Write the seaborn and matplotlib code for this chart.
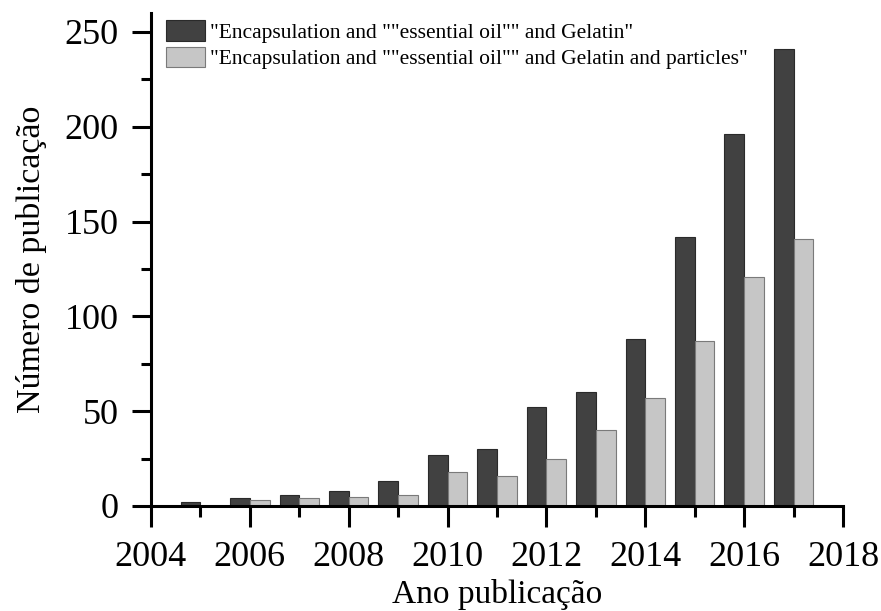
import pandas as pd
import matplotlib
matplotlib.use("Agg")
import matplotlib.pyplot as plt
import seaborn as sns
from matplotlib.ticker import MultipleLocator
from matplotlib.patches import Patch

# Data
years = [2005, 2006, 2007, 2008, 2009, 2010, 2011, 2012, 2013, 2014, 2015, 2016, 2017]
gelatin = [2, 4, 6, 8, 13, 27, 30, 52, 60, 88, 142, 196, 241]
gelatin_particles = [0, 3, 4, 5, 6, 18, 16, 25, 40, 57, 87, 121, 141]

label_1 = '"Encapsulation and ""essential oil"" and Gelatin"'
label_2 = '"Encapsulation and ""essential oil"" and Gelatin and particles"'

data = pd.DataFrame({
    'Ano': years * 2,
    'Publicacoes': gelatin + gelatin_particles,
    'Serie': [label_1] * len(years) + [label_2] * len(years),
})

dark = '#414141'
light = '#c6c6c6'

sns.set_style("ticks")
plt.rcParams['font.family'] = ['Liberation Serif', 'DejaVu Serif']
plt.rcParams['text.color'] = 'black'
plt.rcParams['axes.labelcolor'] = 'black'
plt.rcParams['xtick.color'] = 'black'
plt.rcParams['ytick.color'] = 'black'

fig = plt.figure(figsize=(8.81, 6.11), dpi=100)
ax = fig.add_axes([151 / 881, 105 / 611, 692 / 881, 493 / 611])

sns.barplot(data=data, x='Ano', y='Publicacoes', hue='Serie',
            hue_order=[label_1, label_2], palette={label_1: dark, label_2: light},
            native_scale=True, dodge=True, width=0.8, saturation=1,
            ax=ax, legend=False)

# edges: darker outline on dark bars, mid gray on light bars
for p in ax.patches:
    fc = p.get_facecolor()
    if fc[0] < 0.5:
        p.set_edgecolor('#2a2a2a')
    else:
        p.set_edgecolor('#7a7a7a')
    p.set_linewidth(0.8)

ax.set_xlim(2004, 2018)
ax.set_ylim(0, 260)
ax.xaxis.set_major_locator(MultipleLocator(2))
ax.xaxis.set_minor_locator(MultipleLocator(1))
ax.yaxis.set_major_locator(MultipleLocator(50))
ax.yaxis.set_minor_locator(MultipleLocator(25))

sns.despine(ax=ax)
for side in ['left', 'bottom']:
    ax.spines[side].set_linewidth(2.2)
    ax.spines[side].set_color('black')

ax.tick_params(axis='x', which='major', length=15, width=2.2, labelsize=26, pad=10.5, direction='out')
ax.tick_params(axis='x', which='minor', length=8, width=2.2, direction='out')
ax.tick_params(axis='y', which='major', length=13.7, width=2.2, labelsize=26, pad=9.5, direction='out')
ax.tick_params(axis='y', which='minor', length=7.2, width=2.2, direction='out')

ax.set_xlabel('Ano publicação', fontsize=24, labelpad=3)
ax.set_ylabel('Número de publicação', fontsize=24.5, labelpad=13)

handles = [Patch(facecolor=dark, edgecolor='#2a2a2a', linewidth=0.8),
           Patch(facecolor=light, edgecolor='#7a7a7a', linewidth=0.8)]
ax.legend(handles, [label_1, label_2], loc='upper left',
          bbox_to_anchor=(15 / 692, 1 - 7 / 493), frameon=False,
          fontsize=15.5, handlelength=1.8, handleheight=1.1,
          handletextpad=0.25, labelspacing=0.18, borderpad=0, borderaxespad=0)

fig.savefig('out.png', dpi=100)
